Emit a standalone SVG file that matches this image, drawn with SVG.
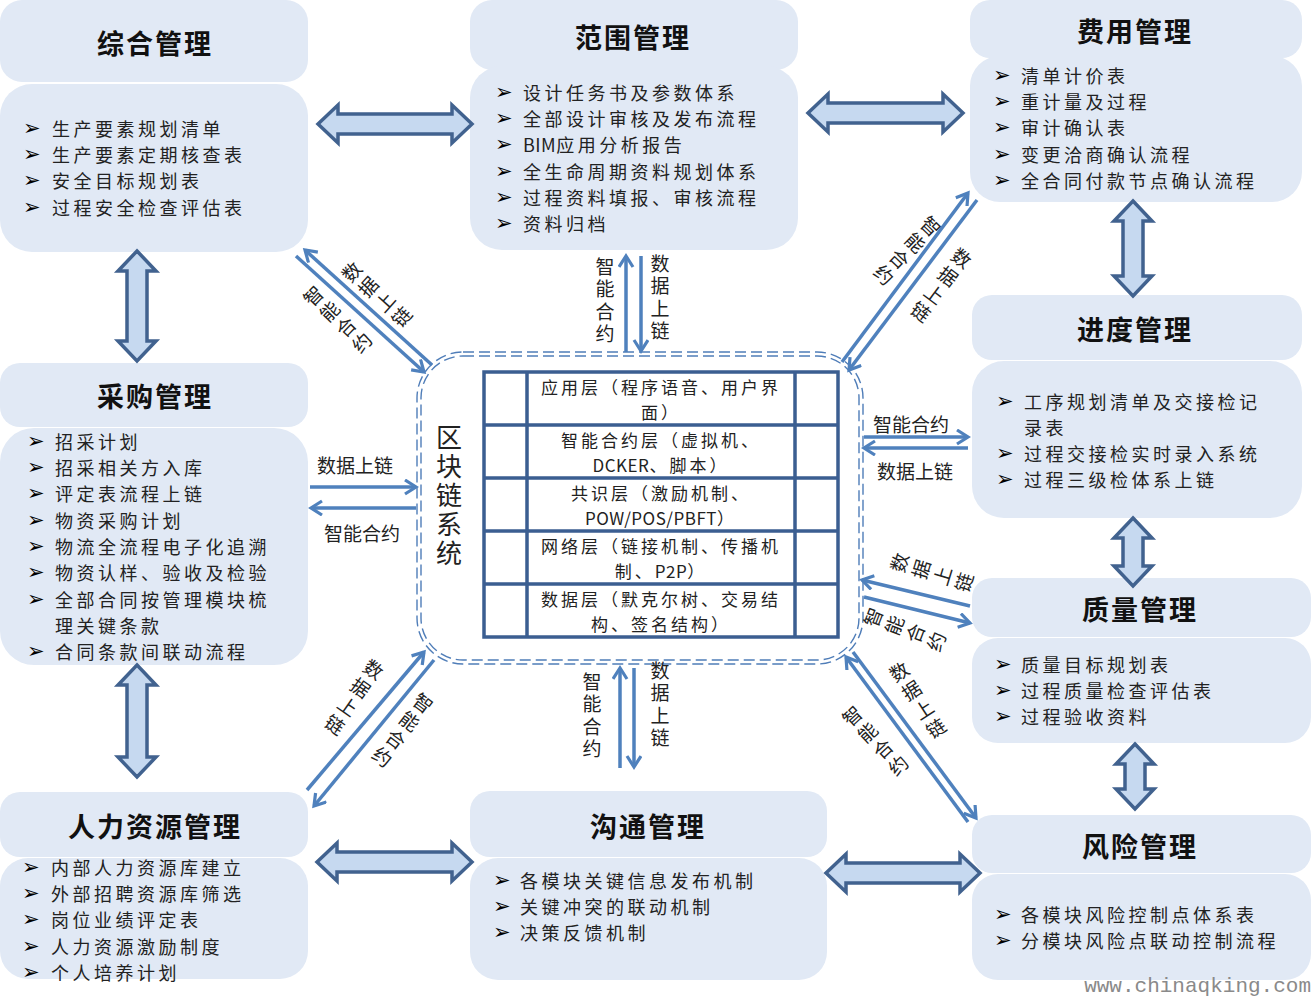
<svg xmlns="http://www.w3.org/2000/svg" width="1311" height="997" viewBox="0 0 1311 997">
<style>
.box{fill:#E1E9F5}
.ttl{font-family:"Noto Sans CJK SC","Noto Sans",sans-serif;font-size:27px;font-weight:bold;fill:#111;text-anchor:middle;dominant-baseline:central;letter-spacing:2px}
.it{font-family:"Noto Sans CJK SC","Noto Sans",sans-serif;font-size:18px;fill:#222;dominant-baseline:central;letter-spacing:3.5px}
.bl{font-family:"DejaVu Sans",sans-serif;font-size:21px;font-weight:bold;fill:#000;dominant-baseline:central}
.lat{letter-spacing:0.5px}
.blk{fill:#C6D9F0;stroke:#41628F;stroke-width:3.5;stroke-linejoin:miter}
.ln{stroke:#4F81BD;stroke-width:3.5;fill:none;marker-end:url(#ah)}
.lb{font-family:"Noto Sans CJK SC","Noto Sans",sans-serif;font-size:19px;fill:#222;text-anchor:middle;dominant-baseline:central}
.vt{writing-mode:vertical-rl;letter-spacing:3.5px}
.tb{font-family:"Noto Sans CJK SC","Noto Sans",sans-serif;font-size:17px;fill:#222;text-anchor:middle;dominant-baseline:central;letter-spacing:3px}
.tbl{fill:none;stroke:#3B5E91;stroke-width:3.5}
.dsh{fill:none;stroke:#4F7DB8;stroke-width:1.4;stroke-dasharray:11 5}
</style>
<defs>
<marker id="ah" markerUnits="userSpaceOnUse" markerWidth="16" markerHeight="18" refX="13" refY="8" orient="auto">
<path d="M2,1 L13,8 L2,15" fill="none" stroke="#4F81BD" stroke-width="3.2"/>
</marker>
</defs>
<rect width="1311" height="997" fill="#fff"/>

<g id="zonghe">
<rect class="box" x="0" y="0" width="308" height="82" rx="22"/>
<rect class="box" x="0" y="84" width="308" height="168" rx="32"/>
<text class="ttl" x="155" y="42">综合管理</text>
<text class="bl" x="23" y="128">➢</text><text class="it" x="52" y="128">生产要素规划清单</text>
<text class="bl" x="23" y="154">➢</text><text class="it" x="52" y="154">生产要素定期核查表</text>
<text class="bl" x="23" y="180">➢</text><text class="it" x="52" y="180">安全目标规划表</text>
<text class="bl" x="23" y="207">➢</text><text class="it" x="52" y="207">过程安全检查评估表</text>
</g>

<g id="fanwei">
<rect class="box" x="470" y="0" width="328" height="70" rx="22"/>
<rect class="box" x="470" y="66" width="328" height="184" rx="32"/>
<text class="ttl" x="633" y="36">范围管理</text>
<text class="bl" x="495" y="92">➢</text><text class="it" x="523" y="92">设计任务书及参数体系</text>
<text class="bl" x="495" y="118">➢</text><text class="it" x="523" y="118">全部设计审核及发布流程</text>
<text class="bl" x="495" y="144">➢</text><text class="it" x="523" y="144"><tspan class="lat">BIM</tspan>应用分析报告</text>
<text class="bl" x="495" y="171">➢</text><text class="it" x="523" y="171">全生命周期资料规划体系</text>
<text class="bl" x="495" y="197">➢</text><text class="it" x="523" y="197">过程资料填报、审核流程</text>
<text class="bl" x="495" y="223">➢</text><text class="it" x="523" y="223">资料归档</text>
</g>

<g id="feiyong">
<rect class="box" x="970" y="0" width="332" height="58" rx="20"/>
<rect class="box" x="970" y="56" width="332" height="146" rx="30"/>
<text class="ttl" x="1135" y="30">费用管理</text>
<text class="bl" x="993" y="75">➢</text><text class="it" x="1021" y="75">清单计价表</text>
<text class="bl" x="993" y="101">➢</text><text class="it" x="1021" y="101">重计量及过程</text>
<text class="bl" x="993" y="127">➢</text><text class="it" x="1021" y="127">审计确认表</text>
<text class="bl" x="993" y="154">➢</text><text class="it" x="1021" y="154">变更洽商确认流程</text>
<text class="bl" x="993" y="180">➢</text><text class="it" x="1021" y="180">全合同付款节点确认流程</text>
</g>

<g id="jindu">
<rect class="box" x="972" y="295" width="330" height="65" rx="20"/>
<rect class="box" x="972" y="361" width="330" height="157" rx="32"/>
<text class="ttl" x="1135" y="328">进度管理</text>
<text class="bl" x="996" y="401">➢</text><text class="it" x="1024" y="401">工序规划清单及交接检记</text>
<text class="it" x="1024" y="427">录表</text>
<text class="bl" x="996" y="453">➢</text><text class="it" x="1024" y="453">过程交接检实时录入系统</text>
<text class="bl" x="996" y="479">➢</text><text class="it" x="1024" y="479">过程三级检体系上链</text>
</g>

<g id="zhiliang">
<rect class="box" x="972" y="578" width="339" height="59" rx="20"/>
<rect class="box" x="972" y="638" width="339" height="105" rx="26"/>
<text class="ttl" x="1140" y="608">质量管理</text>
<text class="bl" x="994" y="664">➢</text><text class="it" x="1021" y="664">质量目标规划表</text>
<text class="bl" x="994" y="690">➢</text><text class="it" x="1021" y="690">过程质量检查评估表</text>
<text class="bl" x="994" y="716">➢</text><text class="it" x="1021" y="716">过程验收资料</text>
</g>

<g id="fengxian">
<rect class="box" x="972" y="815" width="339" height="58" rx="20"/>
<rect class="box" x="972" y="874" width="339" height="106" rx="26"/>
<text class="ttl" x="1140" y="845">风险管理</text>
<text class="bl" x="994" y="914">➢</text><text class="it" x="1021" y="914">各模块风险控制点体系表</text>
<text class="bl" x="994" y="940">➢</text><text class="it" x="1021" y="940">分模块风险点联动控制流程</text>
</g>

<g id="caigou">
<rect class="box" x="0" y="363" width="308" height="64" rx="20"/>
<rect class="box" x="0" y="428" width="308" height="237" rx="34"/>
<text class="ttl" x="155" y="395">采购管理</text>
<text class="bl" x="27" y="441">➢</text><text class="it" x="55" y="441">招采计划</text>
<text class="bl" x="27" y="467">➢</text><text class="it" x="55" y="467">招采相关方入库</text>
<text class="bl" x="27" y="493">➢</text><text class="it" x="55" y="493">评定表流程上链</text>
<text class="bl" x="27" y="520">➢</text><text class="it" x="55" y="520">物资采购计划</text>
<text class="bl" x="27" y="546">➢</text><text class="it" x="55" y="546">物流全流程电子化追溯</text>
<text class="bl" x="27" y="572">➢</text><text class="it" x="55" y="572">物资认样、验收及检验</text>
<text class="bl" x="27" y="599">➢</text><text class="it" x="55" y="599">全部合同按管理模块梳</text>
<text class="it" x="55" y="625">理关键条款</text>
<text class="bl" x="27" y="651">➢</text><text class="it" x="55" y="651">合同条款间联动流程</text>
</g>

<g id="renli">
<rect class="box" x="0" y="792" width="308" height="65" rx="20"/>
<rect class="box" x="0" y="858" width="308" height="121" rx="28"/>
<text class="ttl" x="155" y="825">人力资源管理</text>
<text class="bl" x="22" y="867">➢</text><text class="it" x="51" y="867">内部人力资源库建立</text>
<text class="bl" x="22" y="893">➢</text><text class="it" x="51" y="893">外部招聘资源库筛选</text>
<text class="bl" x="22" y="919">➢</text><text class="it" x="51" y="919">岗位业绩评定表</text>
<text class="bl" x="22" y="946">➢</text><text class="it" x="51" y="946">人力资源激励制度</text>
<text class="bl" x="22" y="972">➢</text><text class="it" x="51" y="972">个人培养计划</text>
</g>

<g id="goutong">
<rect class="box" x="470" y="791" width="357" height="66" rx="20"/>
<rect class="box" x="470" y="858" width="357" height="122" rx="28"/>
<text class="ttl" x="648" y="825">沟通管理</text>
<text class="bl" x="493" y="880">➢</text><text class="it" x="520" y="880">各模块关键信息发布机制</text>
<text class="bl" x="493" y="906">➢</text><text class="it" x="520" y="906">关键冲突的联动机制</text>
<text class="bl" x="493" y="932">➢</text><text class="it" x="520" y="932">决策反馈机制</text>
</g>

<g id="blockchain">
<rect class="dsh" x="417" y="352" width="446" height="312" rx="46"/>
<rect class="dsh" x="421" y="356" width="438" height="304" rx="42"/>
<text class="lb vt" x="449" y="497" style="font-size:26px;letter-spacing:3px">区块链系统</text>
<rect class="tbl" x="484" y="372" width="354" height="265"/>
<path class="tbl" d="M527,372 V637 M795,372 V637 M484,425 H838 M484,478 H838 M484,531 H838 M484,584 H838"/>
<text class="tb" x="661" y="386">应用层（程序语音、用户界</text>
<text class="tb" x="661" y="411">面）</text>
<text class="tb" x="661" y="439">智能合约层（虚拟机、</text>
<text class="tb" x="661" y="464"><tspan class="lat">DCKER</tspan>、脚本）</text>
<text class="tb" x="661" y="492">共识层（激励机制、</text>
<text class="tb" x="661" y="517"><tspan class="lat">POW/POS/PBFT</tspan>）</text>
<text class="tb" x="661" y="545">网络层（链接机制、传播机</text>
<text class="tb" x="661" y="570">制、<tspan class="lat">P2P</tspan>）</text>
<text class="tb" x="661" y="598">数据层（默克尔树、交易结</text>
<text class="tb" x="661" y="623">构、签名结构）</text>
</g>

<g id="blockarrows">
<path class="blk" d="M318,124 L338,105 L338,114 L452,114 L452,105 L472,124 L452,143 L452,134 L338,134 L338,143 Z"/>
<path class="blk" d="M808,113 L828,94 L828,103 L943,103 L943,94 L963,113 L943,132 L943,123 L828,123 L828,132 Z"/>
<path class="blk" d="M1133,201 L1152,221 L1143,221 L1143,276 L1152,276 L1133,296 L1114,276 L1123,276 L1123,221 L1114,221 Z"/>
<path class="blk" d="M1133,518 L1152,538 L1143,538 L1143,566 L1152,566 L1133,586 L1114,566 L1123,566 L1123,538 L1114,538 Z"/>
<path class="blk" d="M1135,744 L1154,764 L1145,764 L1145,789 L1154,789 L1135,809 L1116,789 L1125,789 L1125,764 L1116,764 Z"/>
<path class="blk" d="M826,873 L846,854 L846,863 L960,863 L960,854 L980,873 L960,892 L960,883 L846,883 L846,892 Z"/>
<path class="blk" d="M317,862 L337,843 L337,852 L452,852 L452,843 L472,862 L452,881 L452,872 L337,872 L337,881 Z"/>
<path class="blk" d="M137,251 L156,271 L147,271 L147,341 L156,341 L137,361 L118,341 L127,341 L127,271 L118,271 Z"/>
<path class="blk" d="M137,665 L156,685 L147,685 L147,757 L156,757 L137,777 L118,757 L127,757 L127,685 L118,685 Z"/>
</g>

<g id="connectors">
<path class="ln" d="M626,352 L626,256"/>
<path class="ln" d="M641,256 L641,351"/>
<path class="ln" d="M620,768 L620,668"/>
<path class="ln" d="M634,668 L634,767"/>
<path class="ln" d="M310,487 L416,487"/>
<path class="ln" d="M416,508 L311,508"/>
<path class="ln" d="M864,437 L968,437"/>
<path class="ln" d="M968,448 L864,448"/>
<path class="ln" d="M296,256 L424,372"/>
<path class="ln" d="M432,365 L305,250"/>
<path class="ln" d="M842,362 L968,193"/>
<path class="ln" d="M977,200 L849,370"/>
<path class="ln" d="M307,790 L424,652"/>
<path class="ln" d="M434,660 L314,806"/>
<path class="ln" d="M968,822 L846,657"/>
<path class="ln" d="M853,652 L976,818"/>
<path class="ln" d="M970,606 L862,580"/>
<path class="ln" d="M864,597 L970,623"/>
</g>

<g id="labels" class="lb">
<text class="vt" x="605" y="302">智能合约</text>
<text class="vt" x="660" y="299">数据上链</text>
<text class="vt" x="592" y="717">智能合约</text>
<text class="vt" x="660" y="706">数据上链</text>
<text x="355" y="464">数据上链</text>
<text x="362" y="532">智能合约</text>
<text x="911" y="423">智能合约</text>
<text x="915" y="470">数据上链</text>
<g transform="translate(378,295.5) rotate(-48)"><text class="vt" x="0" y="0">数据上链</text></g>
<g transform="translate(339,320.5) rotate(-46)"><text class="vt" x="0" y="0">智能合约</text></g>
<g transform="translate(906,252) rotate(44)"><text class="vt" x="0" y="0">智能合约</text></g>
<g transform="translate(940,286.5) rotate(37)"><text class="vt" x="0" y="0">数据上链</text></g>
<g transform="translate(353,698.5) rotate(35)"><text class="vt" x="0" y="0">数据上链</text></g>
<g transform="translate(401.5,731.5) rotate(37)"><text class="vt" x="0" y="0">智能合约</text></g>
<g transform="translate(918.5,701.5) rotate(-33)"><text class="vt" x="0" y="0">数据上链</text></g>
<g transform="translate(876.5,742) rotate(-43)"><text class="vt" x="0" y="0">智能合约</text></g>
<g transform="translate(933.5,573) rotate(-73)"><text class="vt" x="0" y="0">数据上链</text></g>
<g transform="translate(906.5,630) rotate(-69)"><text class="vt" x="0" y="0">智能合约</text></g>
</g>

<text x="1311" y="986" style="font-family:'Liberation Mono',monospace;font-size:21px;fill:#8a8a8a;text-anchor:end;dominant-baseline:central">www.chinaqking.com</text>
</svg>
